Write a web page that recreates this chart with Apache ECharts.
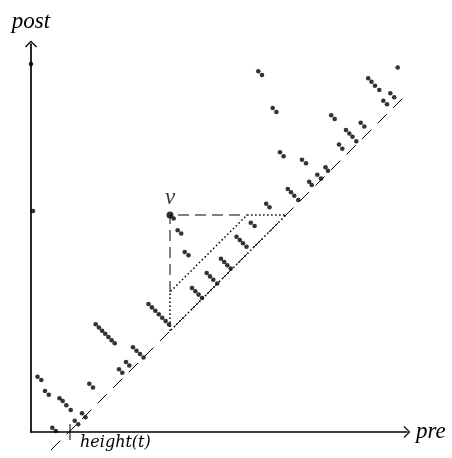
<!DOCTYPE html>
<html>
<head>
<meta charset="utf-8">
<script src="https://cdn.jsdelivr.net/npm/echarts@6/dist/echarts.min.js"></script>
<style>
  html, body { margin: 0; padding: 0; background: #fff; }
  #main { width: 452px; height: 458px; }
</style>
</head>
<body>
<div id="main"></div>
<script>
//  节点 (pre, post)
const nodes = [
    [6.5, 55.3], [10.3, 52], [14, 41], [17.8, 37.2], [28.5, 33.7], [31.7, 31], [35.3, 26.7], [39.7, 22],
    [58.3, 48.3], [62, 44.5], [51, 18.7], [54.5, 14.7], [43.7, 11.3], [47.2, 7.7], [21.3, 4.3], [24.8, 1],
    [64.7, 107.7], [67.9, 104.5], [71.1, 101.3], [74.2, 98.2], [77.4, 95], [80.6, 91.8], [83.7, 88.7],
    [102, 84.7], [105.5, 81.3], [109, 78], [112.5, 74.5],
    [88, 62.7], [91.3, 59.3], [95, 70], [98.3, 66.5],
    [117.5, 128], [120.9, 124.6], [124.3, 121.2], [127.8, 117.7], [131.2, 114.3], [134.6, 110.9], [138, 107.5],
    [142.7, 213.5], [146.7, 201.7], [150.2, 198.5], [153.7, 180], [157.5, 176.7],
    [161, 144], [164.3, 140.7], [167.6, 137.4], [171, 134],
    [175.7, 159], [179, 155.6], [182.3, 152.2], [186.2, 148.5],
    [190, 173.2], [193.2, 170], [196.3, 166.7], [199.7, 163.5],
    [205.5, 195.3], [208.8, 192], [212, 188.7], [215.5, 185.2],
    [219.8, 209.3], [223.6, 206], [235.2, 228.3], [238.5, 224.8],
    [256.8, 243], [260, 239.7], [263.3, 236.3], [267.3, 232],
    [278.2, 250.3], [280.7, 247], [286.3, 257.3], [290, 253.5], [294.5, 264.7], [297, 261.2],
    [249, 279.7], [252.6, 275.8], [271, 272.2], [275, 268.7],
    [227.3, 360.7], [231, 357], [241.7, 324], [245.4, 320],
    [300.2, 316.7], [303.7, 313],
    [315, 302], [318.3, 298.5], [321.5, 295.3], [325.3, 290.7],
    [308, 287.5], [311.3, 283.3], [329.7, 309.3], [333.3, 305.5],
    [337.2, 353.7], [340.5, 350.2], [344, 346.3], [348.3, 342],
    [359.3, 338.7], [363.2, 334.7], [352.3, 331.3], [356, 327.7],
    [366.7, 364.5],
    [0, 368], [2, 221],
];
//  节点 v
const nodeV = [[139, 217]];
//  对角线 post = pre - height(t)
const diagonal = [[20, -18], [408, 370]];
//  v 的虚线
const vGuide = [[139, 140], [139, 217], [216, 217]];
//  点线区域
const region = [[139, 101], [139, 140], [216, 217], [255, 217], [139, 101]];
//  height(t) 刻度
const heightTick = [[39, 8], [39, -8]];

const arrow = 'path://M0,6 L6,0 L12,6 L11,6.8 L6,1.6 L1,6.8 Z';
const serif = '"Liberation Serif", "DejaVu Serif", serif';

const myChart = echarts.init(document.getElementById('main'));
myChart.setOption({
    animation: false,
    grid: {left: 31, right: 45, top: 44, bottom: 26},
    xAxis: {
        type: 'value',
        min: 0,
        max: 376,
        name: 'pre',
        nameLocation: 'end',
        nameGap: 9,
        nameTextStyle: {fontFamily: serif, fontStyle: 'italic', fontSize: 23, color: '#000', padding: [0, 0, 8, 0]},
        axisLine: {lineStyle: {color: '#000', width: 1.7}, symbol: ['none', arrow], symbolSize: [12, 7]},
        axisTick: {show: false},
        axisLabel: {show: false},
        splitLine: {show: false},
    },
    yAxis: {
        type: 'value',
        min: 0,
        max: 388,
        name: 'post',
        nameLocation: 'end',
        nameGap: 11,
        nameTextStyle: {fontFamily: serif, fontStyle: 'italic', fontSize: 23, color: '#000'},
        axisLine: {lineStyle: {color: '#000', width: 1.7}, symbol: ['none', arrow], symbolSize: [12, 7]},
        axisTick: {show: false},
        axisLabel: {show: false},
        splitLine: {show: false},
    },
    series: [
        {
            type: 'line',
            data: diagonal,
            symbol: 'none',
            clip: false,
            lineStyle: {color: '#000', width: 1, type: [13, 9]},
        },
        {
            type: 'line',
            data: vGuide,
            symbol: 'none',
            clip: false,
            lineStyle: {color: '#000', width: 1, type: [11, 6]},
        },
        {
            type: 'line',
            data: region,
            symbol: 'none',
            clip: false,
            lineStyle: {color: '#000', width: 1.5, type: [1.5, 2.5]},
        },
        {
            type: 'line',
            data: heightTick,
            symbol: 'none',
            clip: false,
            lineStyle: {color: '#000', width: 1},
        },
        {
            type: 'scatter',
            data: nodes,
            symbolSize: 4.6,
            clip: false,
            itemStyle: {color: '#000'},
        },
        {
            type: 'scatter',
            data: nodeV,
            symbolSize: 7,
            itemStyle: {color: '#000'},
            label: {
                show: true,
                position: 'top',
                distance: 2,
                formatter: 'v',
                fontFamily: serif,
                fontStyle: 'italic',
                fontSize: 23,
                color: '#000',
            },
        },
    ],
    graphic: [
        {
            type: 'text',
            left: 80,
            top: 435,
            style: {text: 'height(t)', font: 'italic 16px "DejaVu Serif", serif', fill: '#000'},
        },
    ],
});
</script>
</body>
</html>
